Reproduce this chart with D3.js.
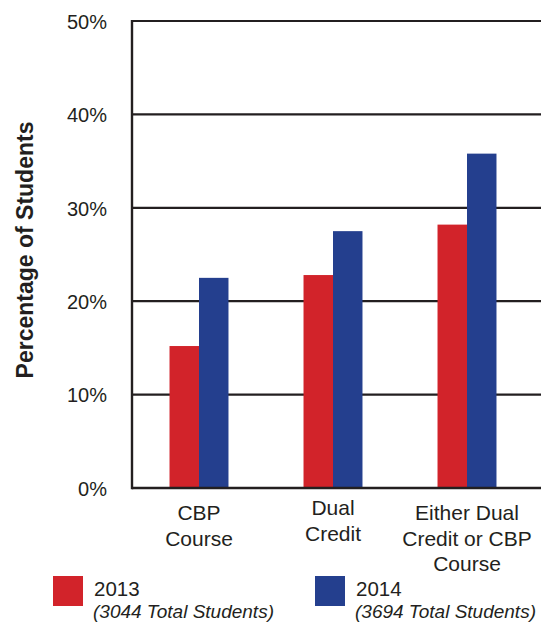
<!DOCTYPE html>
<html><head><meta charset="utf-8">
<script src="https://cdn.jsdelivr.net/npm/d3@7"></script>
<style>body{margin:0;background:#fff}svg{display:block}text{font-family:"Liberation Sans",Arial,Helvetica,sans-serif;fill:#231f20}</style>
</head><body><svg id="c" width="541" height="623"></svg>
<script>
const categories = ["CBP Course","Dual Credit","Either Dual Credit or CBP Course"];
const categoryLines = [["CBP","Course"],["Dual","Credit"],["Either Dual","Credit or CBP","Course"]];
const series = ["2013","2014"];
const seriesNotes = ["(3044 Total Students)","(3694 Total Students)"];
const values2013 = [15.2, 22.8, 28.2];
const values2014 = [22.5, 27.5, 35.8];
const yTicks = [0,10,20,30,40,50];
const colors = ["#d2232a","#243f8e"];

const svg = d3.select("#c");
const x0 = 132, x1 = 534, xr = 541;
const y = d3.scaleLinear().domain([0,50]).range([488,21]);
const x = d3.scaleBand().domain(categories).range([x0,x1]).paddingInner(0.56).paddingOuter(0.28);
const xs = d3.scaleBand().domain(series).range([0,x.bandwidth()]);
const ink = "#231f20";

// gridlines
svg.append("g").selectAll("line").data(yTicks).join("line")
  .attr("x1",x0).attr("x2",xr).attr("y1",d=>y(d)).attr("y2",d=>y(d))
  .attr("stroke",ink).attr("stroke-width",2.2);

// bars
const data = categories.map((c,i)=>({c, v:[values2013[i],values2014[i]]}));
svg.append("g").selectAll("g").data(data).join("g")
  .attr("transform",d=>`translate(${x(d.c)},0)`)
  .selectAll("rect").data(d=>d.v.map((v,j)=>({s:series[j],v,j}))).join("rect")
  .attr("x",d=>xs(d.s)).attr("width",xs.bandwidth())
  .attr("y",d=>y(d.v)).attr("height",d=>y(0)-y(d.v))
  .attr("fill",d=>colors[d.j]);

// baseline & left axis
svg.append("line").attr("x1",x0).attr("x2",xr).attr("y1",y(0)).attr("y2",y(0)).attr("stroke",ink).attr("stroke-width",2.6);
svg.append("line").attr("x1",x0).attr("x2",x0).attr("y1",y(50)-1).attr("y2",y(0)+1.3).attr("stroke",ink).attr("stroke-width",2.4);

// y tick labels
const yAxis = d3.axisLeft(y).tickValues(yTicks).tickFormat(d=>d+"%").tickSize(0).tickPadding(25);
const ya = svg.append("g").attr("transform",`translate(${x0},0)`).call(yAxis);
ya.select(".domain").remove();
ya.selectAll("text").attr("font-size",20).attr("fill",ink).attr("font-family","Liberation Sans, Arial, sans-serif").attr("dy","0.36em");

// y label
svg.append("text").attr("transform","translate(33,250) rotate(-90)")
  .attr("text-anchor","middle").attr("font-size",23).attr("font-weight","bold")
  .text("Percentage of Students");

// category labels
const startY = [520,515,520];
categories.forEach((c,i)=>{
  const t = svg.append("text").attr("text-anchor","middle").attr("font-size",21)
    .attr("x",x(c)+x.bandwidth()/2).attr("y",startY[i]);
  categoryLines[i].forEach((l,k)=>t.append("tspan").attr("x",x(c)+x.bandwidth()/2).attr("dy",k?25.5:0).text(l));
});

// legend
const legX = [53,315];
series.forEach((s,i)=>{
  svg.append("rect").attr("x",legX[i]).attr("y",576).attr("width",30).attr("height",30).attr("fill",colors[i]);
  svg.append("text").attr("x",legX[i]+41).attr("y",596).attr("font-size",20.5).text(s);
  svg.append("text").attr("x",legX[i]+40).attr("y",618).attr("font-size",19).attr("font-style","italic").text(seriesNotes[i]);
});
</script></body></html>
